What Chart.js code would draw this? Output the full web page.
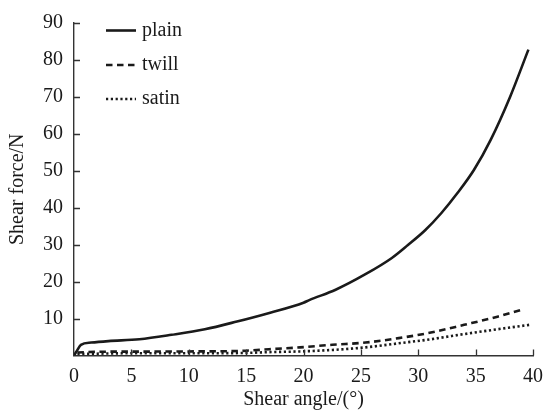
<!DOCTYPE html>
<html>
<head>
<meta charset="utf-8">
<script src="https://cdn.jsdelivr.net/npm/chart.js@4.4.1/dist/chart.umd.min.js"></script>
<style>
html,body{margin:0;padding:0;background:#fff;}
#wrap{width:552px;height:417px;position:relative;}
</style>
</head>
<body>
<div id="wrap"><canvas id="c" width="552" height="417"></canvas></div>
<script>
// ---- data ----
const seriesNames = ["plain", "twill", "satin"];

const plainAngle = [0, 0.2, 0.6, 1.5, 3, 5.7, 8.5, 11.4, 14.2, 17.1, 20, 20.5, 22.8, 25.4, 27.7, 29.1, 30.6, 32, 33.4, 34.85, 36.3, 38, 39.6];
const plainForce = [0, 1.0, 2.9, 3.5, 3.9, 4.4, 5.6, 7.1, 9.2, 11.6, 14.3, 15.0, 17.8, 22.0, 26.4, 29.9, 33.9, 38.5, 43.9, 50.2, 58.3, 70.0, 82.8];

const twillAngle = [0.3, 2, 5, 10, 15, 17, 19.7, 22.5, 25.4, 28.3, 31.1, 34, 36.9, 38.9];
const twillForce = [0.8, 1.0, 1.05, 1.1, 1.3, 1.7, 2.2, 2.9, 3.5, 4.7, 6.2, 8.3, 10.5, 12.3];

const satinAngle = [0.3, 5, 10, 15, 16.8, 19.7, 22.5, 25.4, 28.3, 31.1, 34, 36.9, 39.7];
const satinForce = [0.4, 0.6, 0.6, 0.7, 0.9, 1.1, 1.5, 2.2, 3.3, 4.4, 5.8, 7.1, 8.3];

const xTicks = [0, 5, 10, 15, 20, 25, 30, 35, 40];
const yTicks = [10, 20, 30, 40, 50, 60, 70, 80, 90];
const xTitle = "Shear angle/(°)";
const yTitle = "Shear force/N";

// ---- build ----
const toPts = (xs, ys) => xs.map((x, i) => ({x: x, y: ys[i]}));
const FONT = "'Liberation Serif', 'Times New Roman', serif";
const INK = "#1a1a1a";

const inwardTicks = {
  id: 'inwardTicks',
  afterDraw(chart) {
    const ctx = chart.ctx;
    const xs = chart.scales.x, ys = chart.scales.y;
    const len = 6;
    ctx.save();
    ctx.strokeStyle = "#333";
    ctx.lineWidth = 1.3;
    ctx.beginPath();
    xTicks.forEach(v => {
      if (v === 0) return;
      const px = Math.round(xs.getPixelForValue(v)) + 0.5;
      ctx.moveTo(px, ys.bottom);
      ctx.lineTo(px, ys.bottom - len);
    });
    yTicks.forEach(v => {
      const py = Math.round(ys.getPixelForValue(v)) + 0.5;
      ctx.moveTo(xs.left, py);
      ctx.lineTo(xs.left + len, py);
    });
    ctx.stroke();
    ctx.restore();
  }
};

const customLegend = {
  id: 'customLegend',
  afterDraw(chart) {
    const ctx = chart.ctx;
    const rows = [30.5, 65, 99];
    ctx.save();
    chart.data.datasets.forEach((ds, i) => {
      const y = rows[i];
      ctx.strokeStyle = ds.borderColor;
      ctx.lineWidth = ds.borderWidth;
      ctx.setLineDash(ds.borderDash || []);
      ctx.beginPath();
      ctx.moveTo(106, y);
      ctx.lineTo(136, y);
      ctx.stroke();
      ctx.setLineDash([]);
      ctx.fillStyle = INK;
      ctx.font = "20px " + FONT;
      ctx.textBaseline = "middle";
      ctx.textAlign = "left";
      ctx.fillText(ds.label, 142, y);
    });
    ctx.restore();
  }
};

new Chart(document.getElementById('c'), {
  type: 'line',
  data: {
    datasets: [
      {label: seriesNames[0], data: toPts(plainAngle, plainForce), borderColor: INK, borderWidth: 2.6, borderDash: [], pointRadius: 0, cubicInterpolationMode: 'monotone', fill: false},
      {label: seriesNames[1], data: toPts(twillAngle, twillForce), borderColor: INK, borderWidth: 2.6, borderDash: [6.5, 4.5], pointRadius: 0, cubicInterpolationMode: 'monotone', fill: false},
      {label: seriesNames[2], data: toPts(satinAngle, satinForce), borderColor: INK, borderWidth: 2.6, borderDash: [2.2, 2.6], pointRadius: 0, cubicInterpolationMode: 'monotone', fill: false}
    ]
  },
  options: {
    responsive: false,
    animation: false,
    events: [],
    layout: {padding: {top: 22.5, right: 12, left: 0, bottom: 0}},
    plugins: {legend: {display: false}, tooltip: {enabled: false}},
    scales: {
      x: {
        type: 'linear', min: 0, max: 40,
        afterBuildTicks: s => { s.ticks = xTicks.map(v => ({value: v})); },
        afterFit: s => { s.height = 61.5; },
        grid: {display: true, drawOnChartArea: false, drawTicks: false},
        border: {display: true, color: "#333", width: 1.4},
        ticks: {color: INK, font: {family: FONT, size: 20}, padding: 9, maxRotation: 0, autoSkip: false},
        title: {display: true, text: xTitle, color: INK, font: {family: FONT, size: 20}, padding: {top: 0, bottom: 5}}
      },
      y: {
        type: 'linear', min: 0, max: 90,
        afterBuildTicks: s => { s.ticks = [0].concat(yTicks).map(v => ({value: v})); },
        afterFit: s => { s.width = 74; },
        grid: {display: true, drawOnChartArea: false, drawTicks: false},
        border: {display: true, color: "#333", width: 1.4},
        ticks: {color: INK, font: {family: FONT, size: 20}, padding: 11, autoSkip: false,
                callback: v => (v === 0 ? '' : String(v))},
        title: {display: true, text: yTitle, color: INK, font: {family: FONT, size: 20}, padding: {top: 6, bottom: 0}}
      }
    }
  },
  plugins: [inwardTicks, customLegend]
});
</script>
</body>
</html>
